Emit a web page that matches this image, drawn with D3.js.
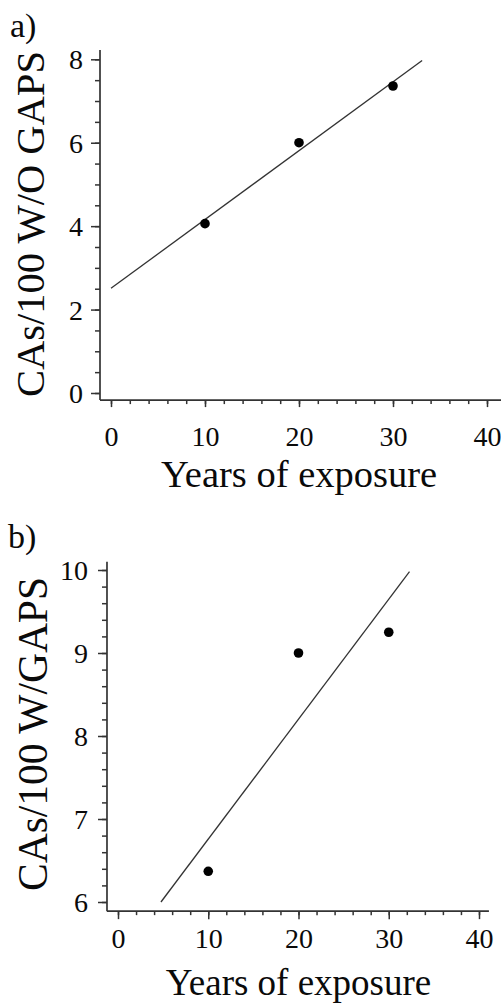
<!DOCTYPE html>
<html>
<head>
<meta charset="utf-8">
<script src="https://cdn.jsdelivr.net/npm/d3@7"></script>
<style>
  html, body { margin: 0; padding: 0; background: #fff; }
  svg { display: block; }
  text { font-family: "Liberation Serif", "Times New Roman", serif; fill: #0a0a0a; }
</style>
</head>
<body>
<svg id="chart" width="501" height="1005"></svg>
<script>
// ---- Data ----
const xTicks = [0, 10, 20, 30, 40];
const yTicksA = [0, 2, 4, 6, 8];
const yTicksB = [6, 7, 8, 9, 10];
const yearsA = [10, 20, 30];
const casA = [4.06, 6.0, 7.36];           // CAs/100 W/O GAPS
const fitA = [[0, 2.51], [33.1, 7.97]];    // regression line, panel a
const yearsB = [10, 20, 30];
const casB = [6.37, 9.0, 9.25];           // CAs/100 W/GAPS
const fitB = [[4.76, 6.0], [32.3, 9.98]];  // regression line, panel b
const panelLabels = ["a)", "b)"];
const yTitles = ["CAs/100 W/O GAPS", "CAs/100 W/GAPS"];
const xTitle = "Years of exposure";

const svg = d3.select("#chart");
const axisColor = "#333";

function panel(cfg) {
  const g = svg.append("g");
  const x = d3.scaleLinear().domain([0, 40]).range(cfg.xRange);
  const y = d3.scaleLinear().domain(cfg.yDomain).range(cfg.yRange);

  // axis lines
  g.append("line")
    .attr("x1", x(cfg.xExt[0])).attr("x2", x(cfg.xExt[1]))
    .attr("y1", y(cfg.yExt[0])).attr("y2", y(cfg.yExt[0]))
    .attr("stroke", axisColor).attr("stroke-width", 1.7);
  g.append("line")
    .attr("x1", x(cfg.xExt[0])).attr("x2", x(cfg.xExt[0]))
    .attr("y1", y(cfg.yExt[0])).attr("y2", y(cfg.yExt[1]))
    .attr("stroke", axisColor).attr("stroke-width", 1.7);

  const axisY0 = y(cfg.yExt[0]);
  const axisX0 = x(cfg.xExt[0]);

  // x minor ticks
  const xMinor = d3.range(0, 40.01, 2);
  const gxm = g.append("g").attr("transform", `translate(0,${axisY0})`)
    .call(d3.axisBottom(x).tickValues(xMinor).tickSize(4).tickFormat(""));
  // x major ticks
  const gx = g.append("g").attr("transform", `translate(0,${axisY0})`)
    .call(d3.axisBottom(x).tickValues(xTicks).tickSize(cfg.xMajor).tickFormat(d3.format("d")));
  [gxm, gx].forEach(s => {
    s.select(".domain").remove();
    s.selectAll(".tick line").attr("stroke", axisColor).attr("stroke-width", 1.5);
  });
  gx.selectAll(".tick text")
    .attr("y", cfg.xLabelOff).attr("dy", 0)
    .style("font-size", "28px").style("font-family", '"Liberation Serif", serif').attr("fill", "#0a0a0a");

  // y minor ticks
  const yMinor = d3.range(cfg.yDomain[0], cfg.yDomain[1] + 1e-6, cfg.yMinorStep);
  const gym = g.append("g").attr("transform", `translate(${axisX0},0)`)
    .call(d3.axisLeft(y).tickValues(yMinor).tickSize(5).tickFormat(""));
  const gy = g.append("g").attr("transform", `translate(${axisX0},0)`)
    .call(d3.axisLeft(y).tickValues(cfg.yTicks).tickSize(9).tickFormat(d3.format("d")));
  [gym, gy].forEach(s => {
    s.select(".domain").remove();
    s.selectAll(".tick line").attr("stroke", axisColor).attr("stroke-width", 1.5);
  });
  gy.selectAll(".tick text")
    .attr("x", cfg.yLabelOff).attr("dy", "0.34em")
    .style("font-size", "28px").style("font-family", '"Liberation Serif", serif').attr("fill", "#0a0a0a");

  // regression line
  g.append("path")
    .datum(cfg.fit)
    .attr("d", d3.line().x(d => x(d[0])).y(d => y(d[1])))
    .attr("fill", "none").attr("stroke", "#333").attr("stroke-width", 1.3);

  // points
  g.selectAll("circle.pt")
    .data(cfg.xs.map((d, i) => [d, cfg.ys[i]]))
    .join("circle")
    .attr("class", "pt")
    .attr("cx", d => x(d[0])).attr("cy", d => y(d[1]))
    .attr("r", 4.8).attr("fill", "#000");

  // panel label
  g.append("text").attr("x", cfg.tag[0]).attr("y", cfg.tag[1])
    .style("font-size", "34px").text(cfg.tagText);

  // x title
  g.append("text")
    .attr("x", x(20)).attr("y", cfg.xTitleY)
    .attr("text-anchor", "middle")
    .style("font-size", cfg.xTitleSize + "px")
    .text(xTitle);

  // y title
  g.append("text")
    .attr("transform", `translate(${cfg.yTitleX},${cfg.yTitleY}) rotate(-90)`)
    .attr("text-anchor", "middle")
    .style("font-size", cfg.yTitleSize + "px")
    .text(cfg.yTitle);
}

panel({
  xRange: [111, 487], yDomain: [0, 8], yRange: [393, 59.3],
  xExt: [-1.17, 41.5], yExt: [-0.17, 8.22],
  yTicks: yTicksA, yMinorStep: 0.5, xMajor: 7, xLabelOff: 46, yLabelOff: -17,
  fit: fitA, xs: yearsA, ys: casA,
  tag: [10, 37], tagText: panelLabels[0],
  xTitleY: 487, xTitleSize: 38.5,
  yTitle: yTitles[0], yTitleX: 44, yTitleY: 224, yTitleSize: 40.5
});

panel({
  xRange: [118, 479], yDomain: [6, 10], yRange: [902, 570],
  xExt: [-1.22, 41.1], yExt: [5.89, 10.1],
  yTicks: yTicksB, yMinorStep: 0.2, xMajor: 8, xLabelOff: 37, yLabelOff: -19,
  fit: fitB, xs: yearsB, ys: casB,
  tag: [8, 548], tagText: panelLabels[1],
  xTitleY: 995, xTitleSize: 37,
  yTitle: yTitles[1], yTitleX: 47, yTitleY: 734, yTitleSize: 41.5
});
</script>
</body>
</html>
